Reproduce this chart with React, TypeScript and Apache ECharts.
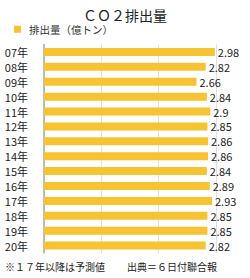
import React, { useEffect, useRef } from "react";
import * as echarts from "echarts";

const categories = ["07年", "08年", "09年", "10年", "11年", "12年", "13年", "14年", "15年", "16年", "17年", "18年", "19年", "20年"];
const values = [2.98, 2.82, 2.66, 2.84, 2.9, 2.85, 2.86, 2.86, 2.84, 2.89, 2.93, 2.85, 2.85, 2.82];
const title = "ＣＯ２排出量";
const seriesName = "排出量（億トン）";
const noteLeft = "※１７年以降は予測値";
const noteRight = "出典＝６日付聯合報";

export default function App() {
  const ref = useRef<HTMLDivElement>(null);
  useEffect(() => {
    const chart = echarts.init(ref.current!, null, { renderer: "svg" });
    const font = "'Noto Sans CJK JP', 'Noto Sans', sans-serif";
    chart.setOption({
      animation: false,
      textStyle: { fontFamily: font },
      title: {
        text: title,
        left: "center",
        top: 3,
        textStyle: { fontSize: 14, fontWeight: "normal", color: "#222", fontFamily: font },
      },
      legend: {
        data: [seriesName],
        left: 9,
        top: 19,
        itemWidth: 7,
        itemHeight: 7,
        icon: "rect",
        padding: [5, 5, 5, 5],
        textStyle: { fontSize: 10.5, color: "#333", fontFamily: font, padding: [0, 0, 0, 3] },
      },
      grid: { left: 44, right: 34, top: 44.5, bottom: 25, containLabel: false },
      xAxis: {
        type: "value",
        min: 0,
        max: 3,
        interval: 1,
        axisLabel: { show: false },
        axisLine: { show: false },
        axisTick: { show: false },
        splitLine: { show: true, lineStyle: { color: "#e0e0e0", width: 1 } },
      },
      yAxis: {
        type: "category",
        data: categories,
        inverse: true,
        axisLine: { show: true, lineStyle: { color: "#aaa", width: 1.5 } },
        axisTick: { show: false },
        axisLabel: { fontSize: 11, color: "#222", margin: 16, fontFamily: font },
      },
      series: [
        {
          name: seriesName,
          type: "bar",
          data: values,
          barWidth: 8,
          itemStyle: { color: "#F6C332" },
          label: {
            show: true,
            position: "right",
            distance: 3,
            fontSize: 11,
            color: "#222",
            fontFamily: font,
          },
        },
      ],
      graphic: [
        {
          type: "text",
          left: 5,
          top: 261,
          style: { text: noteLeft, fontSize: 10, fill: "#222", fontFamily: font },
        },
        {
          type: "text",
          left: 127,
          top: 261,
          style: { text: noteRight, fontSize: 10, fill: "#222", fontFamily: font },
        },
      ],
    });
    return () => chart.dispose();
  }, []);
  return <div ref={ref} style={{ width: 250, height: 278, position: "absolute", left: 0, top: 0 }} />;
}
